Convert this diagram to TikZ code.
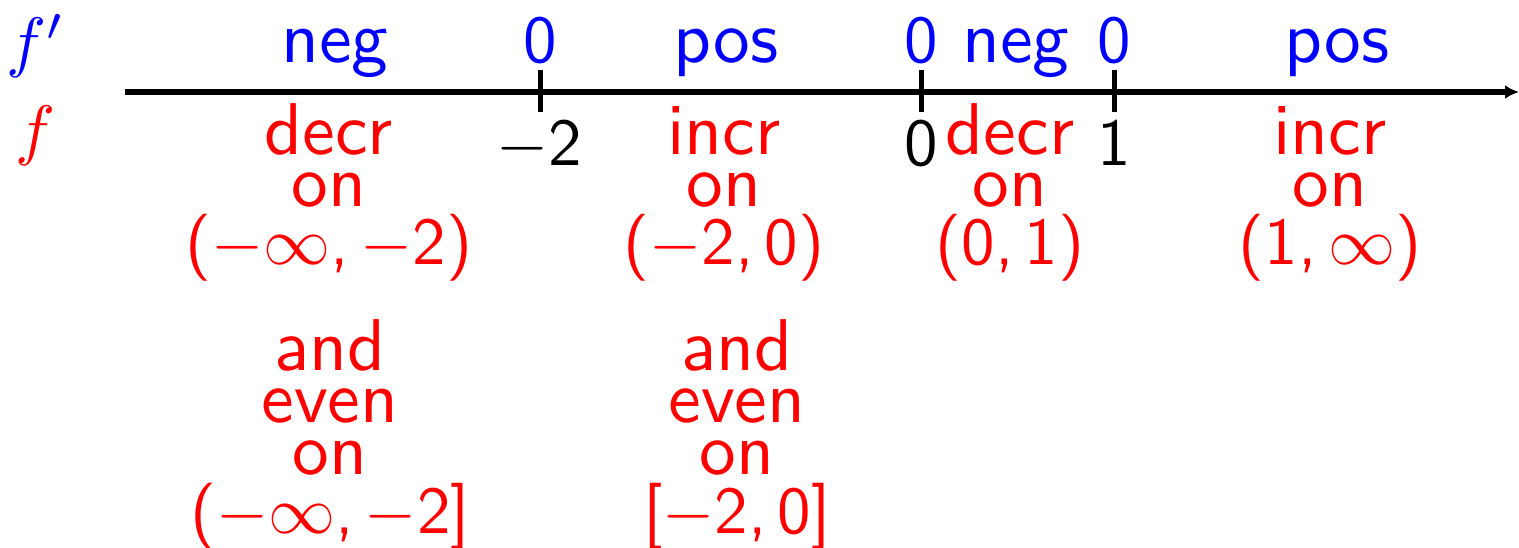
\documentclass[tikz,border=0pt]{standalone}
\usetikzlibrary{arrows.meta}
\newcommand\iv[1]{{\fontsize{10}{7.8}\selectfont #1}}
\begin{document}
\begin{tikzpicture}[x=1pt,y=-1pt,
  lbl/.style={scale=6.7, transform shape, inner sep=0pt, anchor=base, font=\fontsize{10.95}{7.8}\selectfont\sffamily, align=center},
  bl/.style={lbl, text=blue},
  rd/.style={lbl, text=red},
  bk/.style={lbl, text=black},
  axis/.style={line width=6pt, -{Latex[length=14pt,width=14pt]}},
  tick/.style={line width=5pt}]
\useasboundingbox (0,0) rectangle (1519,548);
% axis
\coordinate (ax0) at (125,92);
\coordinate (ax1) at (1519,92);
\draw[axis] (ax0) -- (ax1);
% ticks
\coordinate (t1a) at (540,70); \coordinate (t1b) at (540,112);
\coordinate (t2a) at (921,70); \coordinate (t2b) at (921,112);
\coordinate (t3a) at (1114,70); \coordinate (t3b) at (1114,112);
\draw[tick] (t1a) -- (t1b);
\draw[tick] (t2a) -- (t2b);
\draw[tick] (t3a) -- (t3b);
% row labels
\node[bl] (fp) at (36,65) {\iv{$f'$}};
\node[rd] (f) at (36,153) {\iv{$f$}};
% f' signs
\node[bl] (s1) at (335,63) {neg};
\node[bl] (z1) at (540,63) {\iv{0}};
\node[bl] (s2) at (726,63) {pos};
\node[bl] (z2) at (921,63) {\iv{0}};
\node[bl] (s3) at (1016,63) {neg};
\node[bl] (z3) at (1114,63) {\iv{0}};
\node[bl] (s4) at (1337,63) {pos};
% x values
\node[bk] (x1) at (539,166) {\iv{$-$2}};
\node[bk] (x2) at (921,166) {\iv{0}};
\node[bk] (x3) at (1114,166) {\iv{1}};
% f behaviour
\node[rd] (b1) at (329,265) {decr\\on\\[0.9pt]\iv{($-\infty$,\,$-$2)}};
\node[rd] (b2) at (724,265) {incr\\on\\[0.9pt]\iv{($-$2,\,0)}};
\node[rd] (b3) at (1010,265) {decr\\on\\[0.9pt]\iv{(0,\,1)}};
\node[rd] (b4) at (1330,265) {incr\\on\\[0.9pt]\iv{(1,\,$\infty$)}};
\node[rd] (c1) at (330,533) {and\\even\\on\\[0.9pt]\iv{($-\infty$,\,$-$2]}};
\node[rd] (c2) at (737,533) {and\\even\\on\\[0.9pt]\iv{[$-$2,\,0]}};
\end{tikzpicture}
\end{document}
